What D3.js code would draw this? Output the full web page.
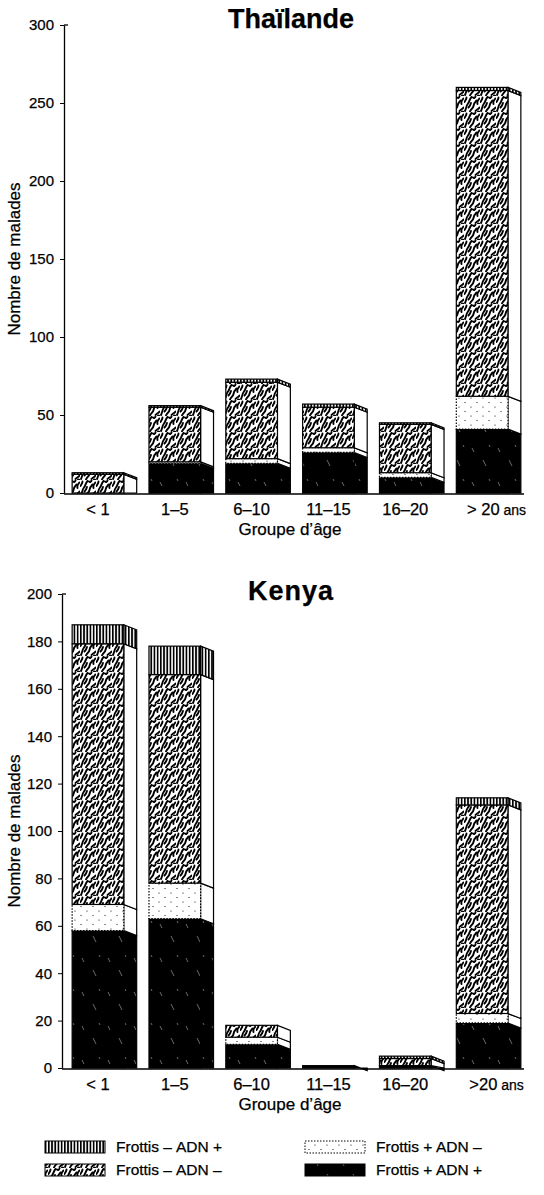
<!DOCTYPE html>
<html>
<head>
<meta charset="utf-8">
<script src="https://cdnjs.cloudflare.com/ajax/libs/d3/7.8.5/d3.min.js"></script>
<style>
  body { margin: 0; background: #fff; }
  svg text { font-family: "Liberation Sans", Arial, sans-serif; fill: #000; stroke: #000; stroke-width: 0.25px; }
</style>
</head>
<body>
<div id="chart"></div>
<script>
// age groups (x axis)
var ageGroups = ["<1", "1-5", "6-10", "11-15", "16-20", ">20"];
var thaiTickLabels = ["< 1", "1–5", "6–10", "11–15", "16–20", "> 20"];
var kenyaTickLabels = ["< 1", "1–5", "6–10", "11–15", "16–20", ">20"];

// stack order, bottom -> top
var seriesKeys = ["fpAdnPos", "fpAdnNeg", "fnAdnNeg", "fnAdnPos"];

// Thaïlande: number of patients per age group
var thaiFpAdnPos = [0, 19, 19, 26, 10, 41];
var thaiFpAdnNeg = [0, 1, 3, 3, 3, 21];
var thaiFnAdnNeg = [12, 35, 49, 26, 31, 196];
var thaiFnAdnPos = [1, 1, 2, 2, 1, 2];

// Kenya: number of patients per age group
var kenyaFpAdnPos = [58, 63, 10, 1, 1, 19];
var kenyaFpAdnNeg = [11, 15, 3, 0, 0, 4];
var kenyaFnAdnNeg = [110, 88, 5, 0, 3, 88];
var kenyaFnAdnPos = [8, 12, 0, 0, 1, 3];

// y tick values
var thaiTicks = [0, 50, 100, 150, 200, 250, 300];
var kenyaTicks = [0, 20, 40, 60, 80, 100, 120, 140, 160, 180, 200];

// legend
var legendKeys = ["fnAdnPos", "fnAdnNeg", "fpAdnNeg", "fpAdnPos"];
var legendLeft = ["Frottis –", "Frottis –", "Frottis +", "Frottis +"];
var legendRight = ["ADN +", "ADN –", "ADN –", "ADN +"];

var svgWidth = 544;
var svgHeight = 1195;

var svg = d3.select("#chart")
  .append("svg")
  .attr("width", svgWidth)
  .attr("height", svgHeight);

// ---- fill patterns ----
var defs = svg.append("defs");

// vertical stripes
var stripes = defs.append("pattern")
  .attr("id", "stripes")
  .attr("patternUnits", "userSpaceOnUse")
  .attr("width", 3.2).attr("height", 10);
stripes.append("rect").attr("width", 3.2).attr("height", 10).attr("fill", "#fff");
stripes.append("rect").attr("width", 1.7).attr("height", 10).attr("fill", "#000");

// worm-like texture (denser, mostly "/" oriented)
var squig = defs.append("pattern")
  .attr("id", "squig")
  .attr("patternUnits", "userSpaceOnUse")
  .attr("width", 16).attr("height", 16);
squig.append("rect").attr("width", 16).attr("height", 16).attr("fill", "#fff");
[
  "M1 15 C2.5 12 2 10 4 7.5 S5.5 3 7.5 1",
  "M6 15.5 C7 13 9 12.5 9.5 10 S11 6 12.5 4.5",
  "M0.5 6 C1 4.5 2.5 3.5 2.5 1.5",
  "M11.5 15 C12.5 13.5 14 13.5 15.5 11.5",
  "M4.5 11.5 C5.5 10.5 6.5 9 7 7",
  "M13.5 8 C13 6.5 14 4 15.5 2.5",
  "M9 1.5 C10 2.5 11 2 11.5 0.5",
  "M14 15.5 L15.5 16"
].forEach(function(d) {
  squig.append("path")
    .attr("d", d)
    .attr("fill", "none")
    .attr("stroke", "#000")
    .attr("stroke-width", 1.9)
    .attr("stroke-linecap", "round");
});

// sparse dots
var dots = defs.append("pattern")
  .attr("id", "dots")
  .attr("patternUnits", "userSpaceOnUse")
  .attr("width", 12).attr("height", 9);
dots.append("rect").attr("width", 12).attr("height", 9).attr("fill", "#fff");
dots.append("circle").attr("cx", 3).attr("cy", 2).attr("r", 0.6).attr("fill", "#000");
dots.append("circle").attr("cx", 9).attr("cy", 6.5).attr("r", 0.6).attr("fill", "#000");

// black with a few white scan streaks
var black = defs.append("pattern")
  .attr("id", "black")
  .attr("patternUnits", "userSpaceOnUse")
  .attr("width", 26).attr("height", 34);
black.append("rect").attr("width", 26).attr("height", 34).attr("fill", "#000");
black.append("path")
  .attr("d", "M4 6 L6 10 M15 18 L18 24 M21 3 L22 5")
  .attr("stroke", "#fff")
  .attr("stroke-width", 0.6)
  .attr("opacity", 0.7);

var frontFill = {
  fpAdnPos: "url(#black)",
  fpAdnNeg: "url(#dots)",
  fnAdnNeg: "url(#squig)",
  fnAdnPos: "url(#stripes)"
};
var sideFill = {
  fpAdnPos: "url(#black)",
  fpAdnNeg: "#fff",
  fnAdnNeg: "#fff",
  fnAdnPos: "url(#stripes)"
};

function drawPanel(cfg) {
  // build table rows from the arrays
  var rows = ageGroups.map(function(g, i) {
    var row = { group: g };
    seriesKeys.forEach(function(k, j) { row[k] = cfg.values[j][i]; });
    return row;
  });
  var stacked = d3.stack().keys(seriesKeys)(rows);

  var x = d3.scaleBand()
    .domain(ageGroups)
    .range([66, 527])
    .paddingInner(0.16)
    .paddingOuter(0.08);

  var y = d3.scaleLinear()
    .domain([0, cfg.max])
    .range([cfg.bottom, cfg.top]);

  var frontW = x.bandwidth() * 0.8;
  var sideW = x.bandwidth() - frontW;
  var slant = 5;
  var base = y(0);

  var g = svg.append("g");

  // bars: front face + right side face
  stacked.forEach(function(layer) {
    var key = layer.key;
    var segs = layer.filter(function(d) { return d[1] - d[0] > 0; });
    var lg = g.append("g");

    lg.selectAll(".side")
      .data(segs)
      .enter()
      .append("path")
      .attr("d", function(d) {
        var x0 = x(d.data.group) + frontW;
        var x1 = x0 + sideW;
        var yt = y(d[1]);
        var yb = y(d[0]);
        return "M" + x0 + "," + yt +
          "L" + x1 + "," + (yt + slant) +
          "L" + x1 + "," + Math.min(yb + slant, base) +
          "L" + x0 + "," + yb + "Z";
      })
      .attr("fill", sideFill[key])
      .attr("stroke", "#000")
      .attr("stroke-width", 1.2);

    lg.selectAll(".front")
      .data(segs)
      .enter()
      .append("rect")
      .attr("x", function(d) { return x(d.data.group); })
      .attr("y", function(d) { return y(d[1]); })
      .attr("width", frontW)
      .attr("height", function(d) { return y(d[0]) - y(d[1]); })
      .attr("fill", frontFill[key])
      .attr("stroke", "#000")
      .attr("stroke-width", 1.2)
      .attr("stroke-dasharray", key === "fpAdnNeg" ? "1.5,1.5" : null);
  });

  // baseline
  g.append("line")
    .attr("x1", cfg.axisX).attr("x2", 524)
    .attr("y1", base + 1).attr("y2", base + 1)
    .attr("stroke", "#000").attr("stroke-width", 1.5);

  // y axis
  var yAxis = g.append("g")
    .attr("transform", `translate(${cfg.axisX},0)`)
    .call(d3.axisLeft(y).tickValues(cfg.ticks).tickSize(4).tickSizeOuter(0).tickPadding(6));
  yAxis.select(".domain").attr("stroke-width", 1.3);
  yAxis.selectAll("text").style("font-size", "15px");
  yAxis.append("line")
    .attr("x1", 0).attr("x2", 4)
    .attr("y1", y(cfg.max)).attr("y2", y(cfg.max))
    .attr("stroke", "#000").attr("stroke-width", 1.3);

  // x axis labels
  var xAxis = g.append("g")
    .attr("transform", `translate(0,${base})`)
    .call(d3.axisBottom(x).tickSize(0).tickPadding(10)
      .tickFormat(function(d, i) { return cfg.tickLabels[i]; }));
  xAxis.select(".domain").remove();
  xAxis.selectAll("text")
    .style("font-size", "16.5px")
    .attr("dx", -sideW / 2);
  var last = xAxis.selectAll(".tick:last-of-type text");
  last.append("tspan").style("font-size", "14px").text(" ans");
  last.attr("dx", 8);

  // axis titles
  g.append("text")
    .attr("x", 290)
    .attr("y", base + 42)
    .style("text-anchor", "middle")
    .style("font-size", "17px")
    .text("Groupe d’âge");

  g.append("text")
    .attr("transform", "rotate(-90)")
    .attr("x", -(cfg.top + cfg.bottom) / 2)
    .attr("y", 20)
    .style("text-anchor", "middle")
    .style("font-size", "17px")
    .text("Nombre de malades");

  // panel title
  g.append("text")
    .attr("x", 291)
    .attr("y", cfg.titleY)
    .style("text-anchor", "middle")
    .style("font-size", "27px")
    .style("font-weight", "bold")
    .style("letter-spacing", cfg.titleSpacing)
    .text(cfg.title);
}

drawPanel({
  title: "Thaïlande",
  titleY: 28,
  titleSpacing: "0px",
  values: [thaiFpAdnPos, thaiFpAdnNeg, thaiFnAdnNeg, thaiFnAdnPos],
  tickLabels: thaiTickLabels,
  ticks: thaiTicks,
  max: 300,
  top: 25,
  bottom: 493,
  axisX: 64
});

drawPanel({
  title: "Kenya",
  titleY: 600,
  titleSpacing: "1px",
  values: [kenyaFpAdnPos, kenyaFpAdnNeg, kenyaFnAdnNeg, kenyaFnAdnPos],
  tickLabels: kenyaTickLabels,
  ticks: kenyaTicks,
  max: 200,
  top: 594,
  bottom: 1068,
  axisX: 62
});

// legend
var legend = svg.append("g");
legendKeys.forEach(function(k, i) {
  var col = Math.floor(i / 2);
  var row = i % 2;
  var lx = col === 0 ? 45 : 305;
  var ly = 1141 + row * 23;
  legend.append("rect")
    .attr("x", lx).attr("y", ly)
    .attr("width", 60).attr("height", 12)
    .attr("fill", frontFill[k])
    .attr("stroke", "#000")
    .attr("stroke-width", 1)
    .attr("stroke-dasharray", k === "fpAdnNeg" ? "1.5,1.5" : null);
  legend.append("text")
    .attr("x", lx + 71).attr("y", ly + 11)
    .style("font-size", "15.5px")
    .text(legendLeft[i]);
  legend.append("text")
    .attr("x", lx + 131).attr("y", ly + 11)
    .style("font-size", "15.5px")
    .text(legendRight[i]);
});
</script>
</body>
</html>
